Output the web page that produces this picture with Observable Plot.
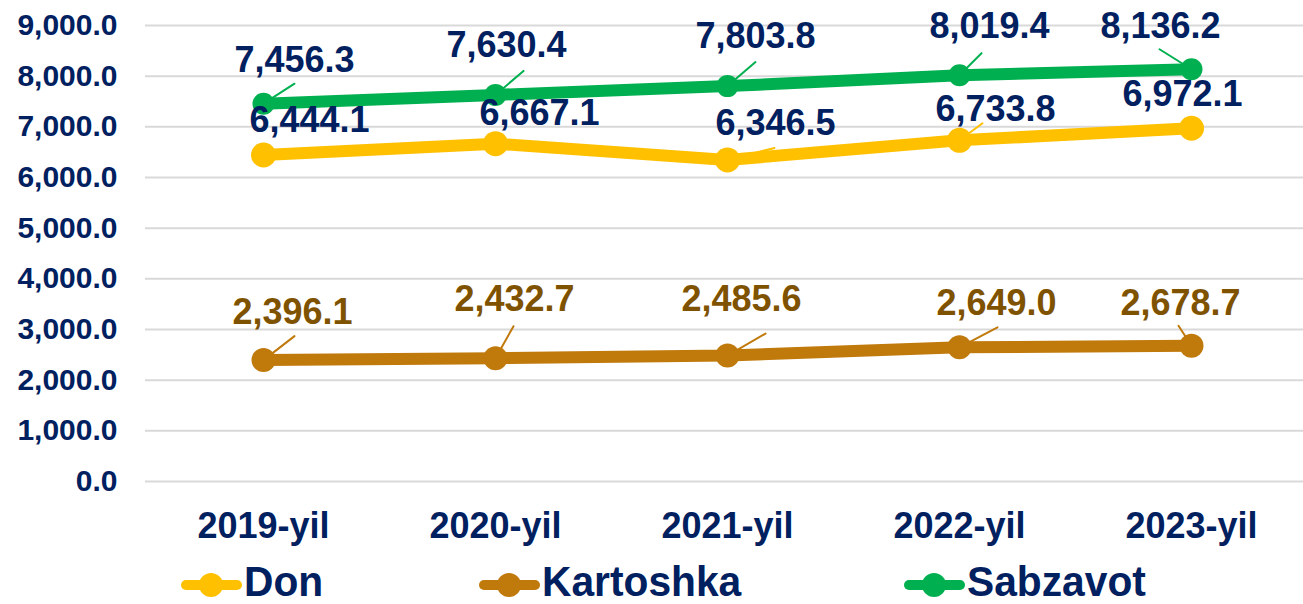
<!DOCTYPE html>
<html>
<head>
<meta charset="utf-8">
<script src="https://cdn.jsdelivr.net/npm/d3@7"></script>
<script src="https://cdn.jsdelivr.net/npm/@observablehq/plot@0.6"></script>
<style>
  body { margin: 0; background: #fff; font-family: "Liberation Sans", Arial, sans-serif; }
  #wrap { position: relative; width: 1303px; height: 604px; overflow: hidden; }
  #legend { position: relative; width: 1303px; height: 49px; }
  .item { position: absolute; top: 0; height: 49px; }
  .item svg { position: absolute; top: 17px; left: 0; }
  .item span { position: absolute; top: 3px; white-space: nowrap; font-size: 42px; line-height: normal;
               font-weight: bold; color: #002060; transform: scaleX(0.97); transform-origin: left center; }
</style>
</head>
<body>
<div id="wrap">
  <div id="chart"></div>
  <div id="legend"></div>
</div>
<script>
// ---- data ----
const years = ["2019-yil", "2020-yil", "2021-yil", "2022-yil", "2023-yil"];
const don = [6444.1, 6667.1, 6346.5, 6733.8, 6972.1];
const kartoshka = [2396.1, 2432.7, 2485.6, 2649.0, 2678.7];
const sabzavot = [7456.3, 7630.4, 7803.8, 8019.4, 8136.2];
const seriesNames = ["Don", "Kartoshka", "Sabzavot"];
const yTicks = [0, 1000, 2000, 3000, 4000, 5000, 6000, 7000, 8000, 9000];

// ---- styles / layout ----
const seriesColors = ["#FFC000", "#C0790B", "#00B050"];
const labelColors = ["#002060", "#7F5200", "#002060"];
const dotRadius = [12.5, 12, 11];
// data-label offsets in px from each point (manually placed labels, as in the source)
const labelOffsets = [
  [[46, -35], [44, -30], [48, -36], [36, -31], [-9, -34]],
  [[29, -48], [19, -59], [14, -56], [37, -44], [-11, -42]],
  [[31, -43], [11, -49], [28, -50], [30, -49], [-31, -43]]
];
// leader-line end offsets in px from each point (null = no leader line)
const leaderEnds = [
  [null, null, [47, -12], [23, -17], null],
  [[31, -24], [18, -32], [38, -22], [38, -20], [-13, -20]],
  [[31, -20], [28, -24], [28, -24], [22, -22], [-32, -20]]
];

const valuesBySeries = [don, kartoshka, sabzavot];
const rows = [];
seriesNames.forEach((s, i) => {
  valuesBySeries[i].forEach((v, j) => rows.push({series: s, si: i, yi: j, year: years[j], value: v}));
});

const fmt = d3.format(",.1f");
const lineShape = { draw(context, l) { context.moveTo(0, 0); context.lineTo(0, -l); } };

const marks = [
  Plot.ruleY(yTicks, {stroke: "#D9D9D9", strokeWidth: 2}),
  Plot.axisY({ticks: yTicks, tickFormat: fmt, tickSize: 0, tickPadding: 28,
               fontSize: 30, fontWeight: "bold", fill: "#002060", label: null}),
  Plot.axisX({tickSize: 0, tickPadding: 31, fontSize: 36, fontWeight: "bold", fill: "#002060", label: null})
];

seriesNames.forEach((s, i) => {
  const data = rows.filter(d => d.si === i);
  const leaders = data.filter(d => leaderEnds[i][d.yi]);
  marks.push(
    Plot.line(data, {x: "year", y: "value", stroke: seriesColors[i], strokeWidth: 12,
                     strokeLinejoin: "round", strokeLinecap: "round"}),
    Plot.vector(leaders, {
      x: "year", y: "value", anchor: "start", shape: lineShape,
      length: d => Math.hypot(...leaderEnds[i][d.yi]),
      rotate: d => Math.atan2(leaderEnds[i][d.yi][0], -leaderEnds[i][d.yi][1]) * 180 / Math.PI,
      stroke: seriesColors[i], strokeWidth: 2
    }),
    Plot.dot(data, {x: "year", y: "value", r: dotRadius[i], fill: seriesColors[i], stroke: "none"})
  );
});

seriesNames.forEach((s, i) => {
  rows.filter(d => d.si === i).forEach(d => {
    const [ox, oy] = labelOffsets[i][d.yi];
    marks.push(Plot.text([d], {x: "year", y: "value", text: r => fmt(r.value), dx: ox, dy: oy,
      fill: labelColors[i], fontSize: 36, fontWeight: "bold", textAnchor: "middle"}));
  });
});

const chart = Plot.plot({
  width: 1303,
  height: 555,
  marginLeft: 145,
  marginRight: 0,
  marginTop: 25,
  marginBottom: 74,
  style: {fontFamily: "'Liberation Sans', Arial, sans-serif", color: "#002060", background: "transparent", overflow: "visible"},
  x: {type: "point", domain: years, range: [262, 1192], padding: 0},
  y: {domain: [0, 9000]},
  length: {type: "identity"},
  marks
});
document.getElementById("chart").appendChild(chart);

// ---- legend (HTML, below the SVG) ----
const legendPos = [180, 478, 903];
const legend = document.getElementById("legend");
seriesNames.forEach((s, i) => {
  const item = document.createElement("div");
  item.className = "item";
  item.style.left = legendPos[i] + "px";
  item.innerHTML = `<svg width="64" height="26"><line x1="6" y1="13" x2="57" y2="13" stroke="${seriesColors[i]}" stroke-width="10" stroke-linecap="round"/><circle cx="31" cy="13" r="12" fill="${seriesColors[i]}"/></svg><span style="left:64px">${s}</span>`;
  legend.appendChild(item);
});
</script>
</body>
</html>
